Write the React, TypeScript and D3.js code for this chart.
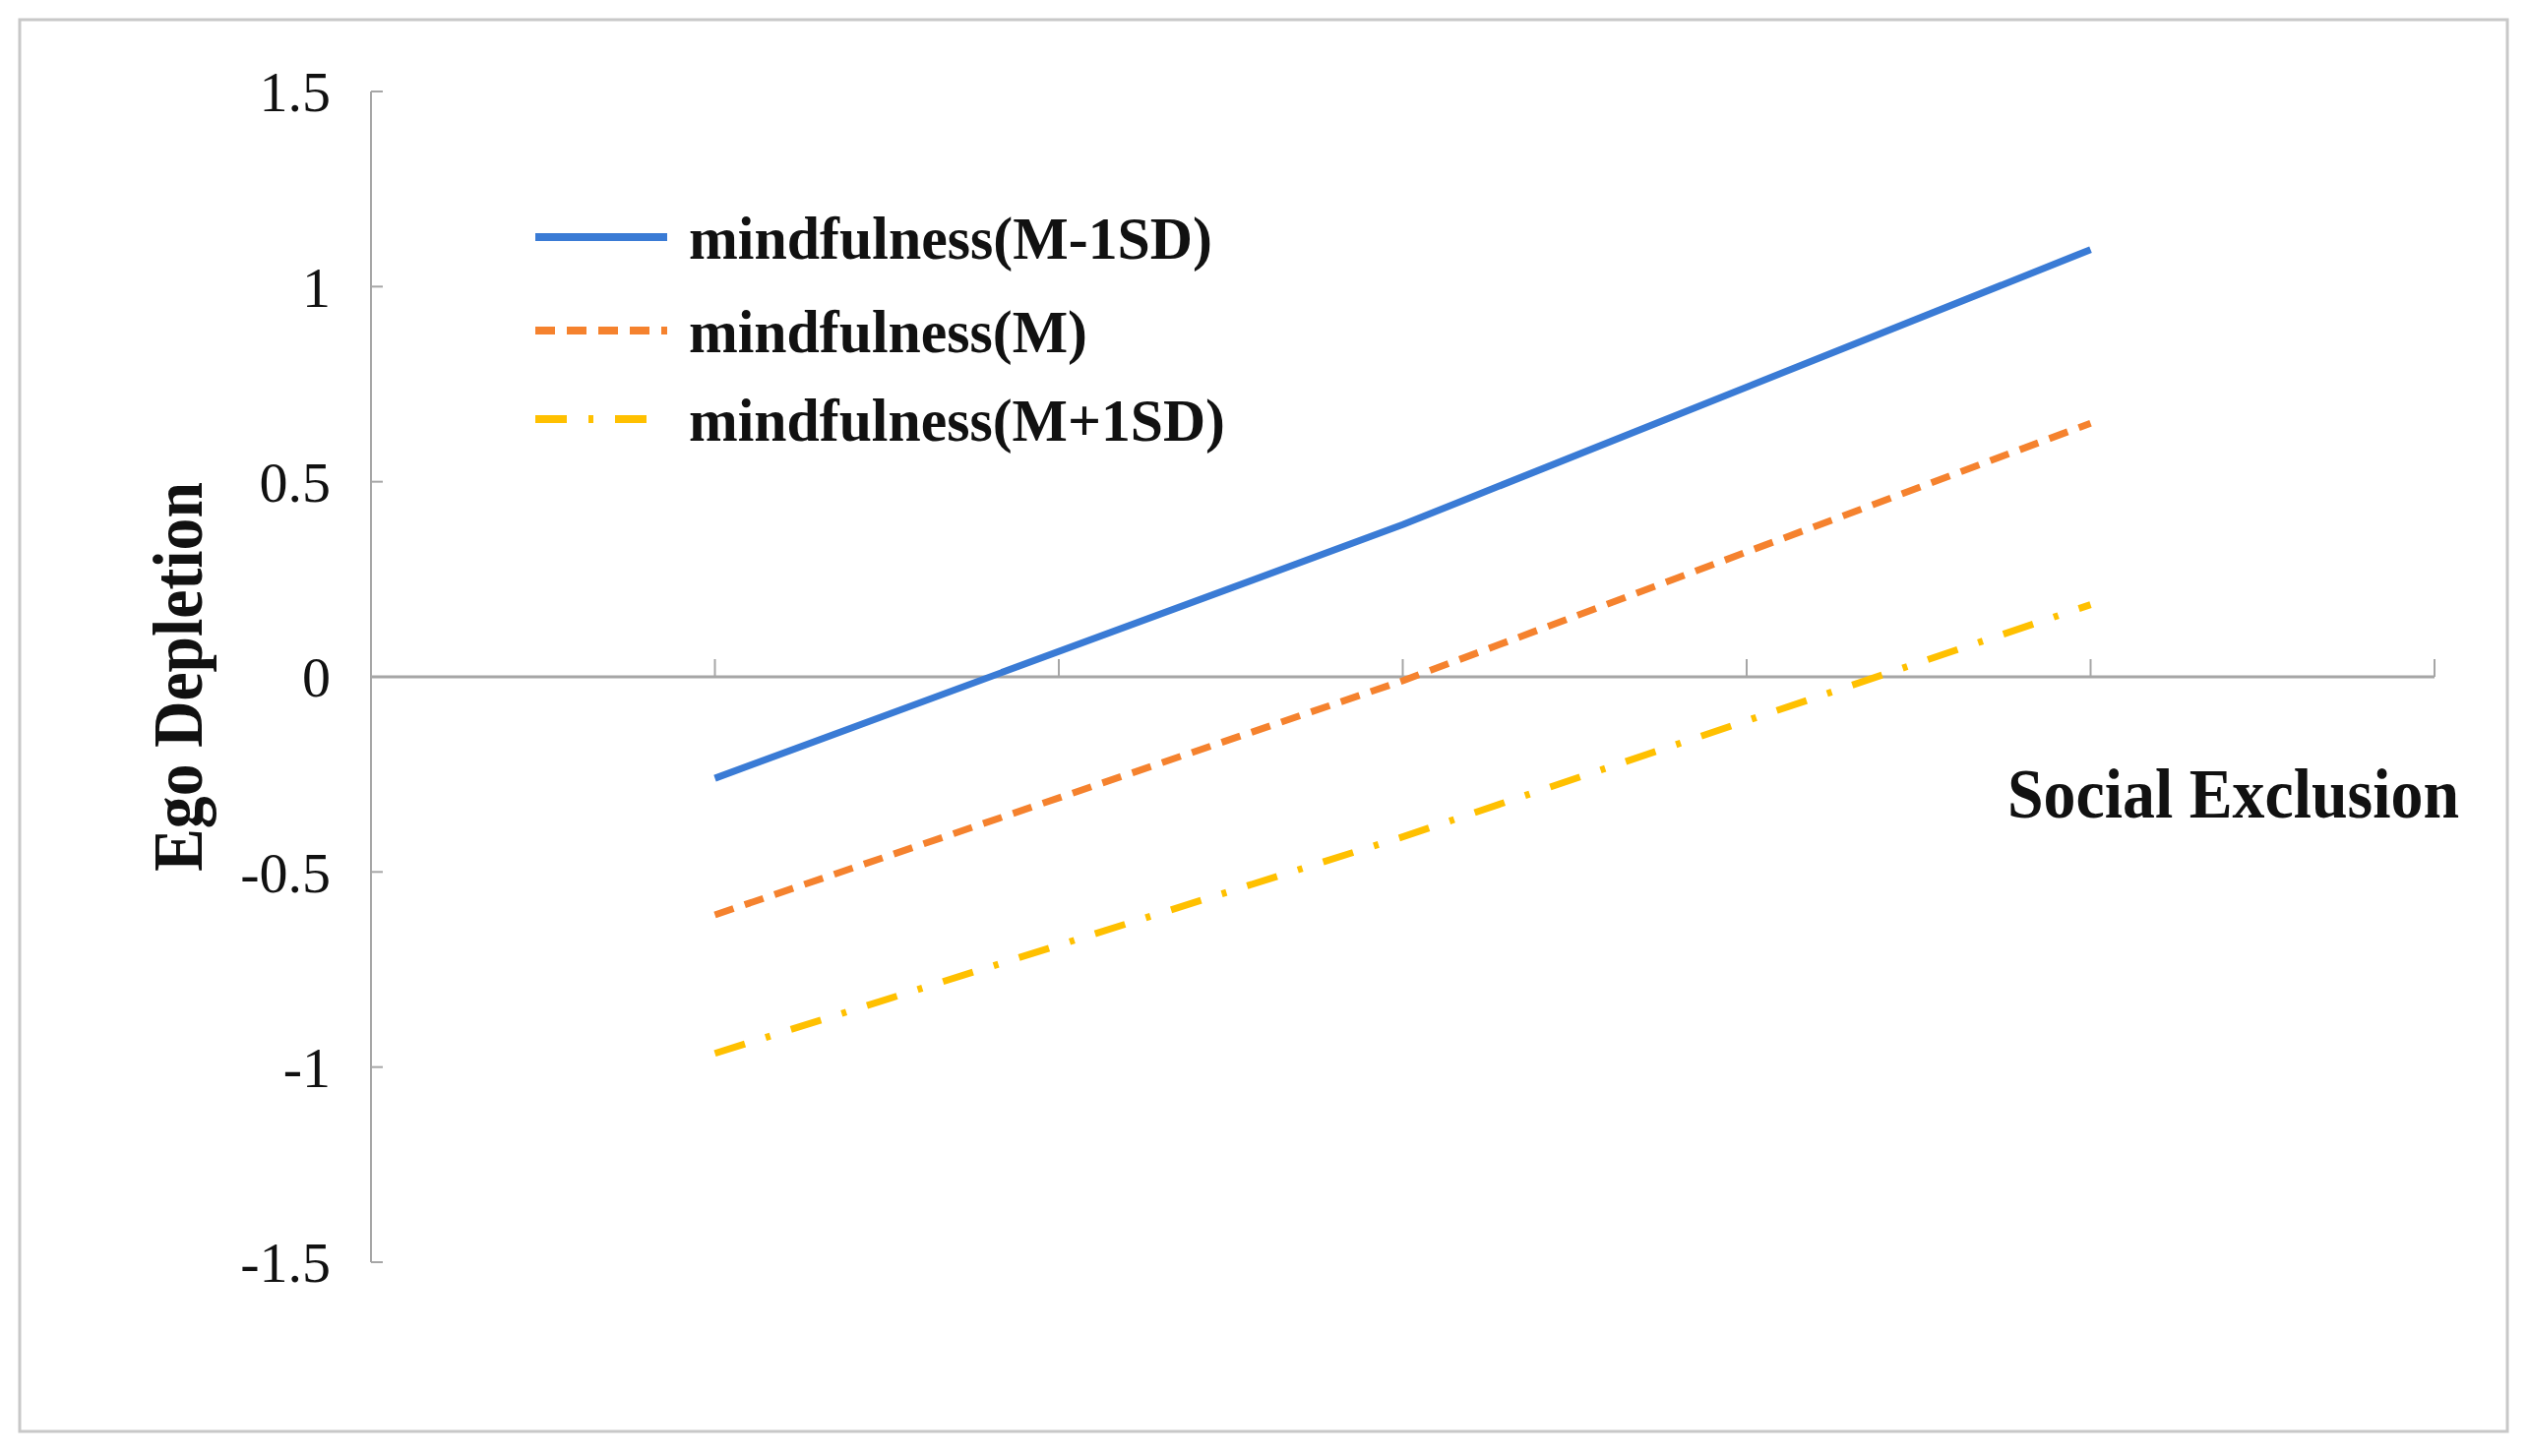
import React, { useEffect, useRef } from 'react';
import * as d3 from 'd3';

// x positions of the three conditions (low / mean / high social exclusion)
const xValues = [-2, 0, 2];
const seriesNames = ['mindfulness(M-1SD)', 'mindfulness(M)', 'mindfulness(M+1SD)'];
const lowMindfulness = [-0.26, 0.39, 1.095];
const meanMindfulness = [-0.61, -0.01, 0.65];
const highMindfulness = [-0.965, -0.41, 0.185];
const yTicks = [1.5, 1, 0.5, 0, -0.5, -1, -1.5];
const xTicks = [-2, -1, 0, 1, 2, 3];

const colors = ['#3a7bd5', '#f5822e', '#ffc000'];
const dashes = ['none', '20,12', '32,22,5,22'];

export default function App() {
    const ref = useRef<SVGSVGElement>(null);

    const width = 2569;
    const height = 1480;

    useEffect(() => {
        const svg = d3.select(ref.current);
        svg.selectAll('*').remove();

        const font = '"Liberation Serif", "Times New Roman", serif';

        svg.append('rect')
            .attr('width', width)
            .attr('height', height)
            .attr('fill', '#ffffff');

        // outer frame
        svg.append('rect')
            .attr('x', 20)
            .attr('y', 20)
            .attr('width', 2528)
            .attr('height', 1435)
            .attr('fill', 'none')
            .attr('stroke', '#c8c8c8')
            .attr('stroke-width', 3);

        const x = d3.scaleLinear().domain([-3, 3]).range([377, 2474]);
        const y = d3.scaleLinear().domain([-1.5, 1.5]).range([1283, 93]);

        // y axis
        const yAxis = svg.append('g');
        yAxis.append('line')
            .attr('x1', x(-3)).attr('x2', x(-3))
            .attr('y1', y(1.5)).attr('y2', y(-1.5))
            .attr('stroke', '#a6a6a6')
            .attr('stroke-width', 2);
        yAxis.selectAll('.tick')
            .data(yTicks)
            .enter()
            .append('line')
            .attr('x1', x(-3)).attr('x2', x(-3) + 12)
            .attr('y1', (d) => y(d)).attr('y2', (d) => y(d))
            .attr('stroke', '#a6a6a6')
            .attr('stroke-width', 2);
        yAxis.selectAll('.label')
            .data(yTicks)
            .enter()
            .append('text')
            .attr('x', 336)
            .attr('y', (d) => y(d))
            .attr('dy', '0.35em')
            .attr('text-anchor', 'end')
            .style('font-family', font)
            .style('font-size', '58px')
            .style('fill', '#111')
            .text((d) => String(d));

        // x axis through zero
        const xAxis = svg.append('g');
        xAxis.append('line')
            .attr('x1', x(-3)).attr('x2', x(3))
            .attr('y1', y(0)).attr('y2', y(0))
            .attr('stroke', '#a6a6a6')
            .attr('stroke-width', 3);
        xAxis.selectAll('.tick')
            .data(xTicks)
            .enter()
            .append('line')
            .attr('x1', (d) => x(d)).attr('x2', (d) => x(d))
            .attr('y1', y(0)).attr('y2', y(0) - 18)
            .attr('stroke', '#a6a6a6')
            .attr('stroke-width', 2);

        // axis titles
        svg.append('text')
            .attr('transform', `translate(205, ${y(0)}) rotate(-90)`)
            .attr('text-anchor', 'middle')
            .attr('textLength', 396)
            .attr('lengthAdjust', 'spacingAndGlyphs')
            .style('font-family', font)
            .style('font-size', '72px')
            .style('font-weight', 'bold')
            .style('fill', '#111')
            .text('Ego Depletion');

        svg.append('text')
            .attr('x', 2040)
            .attr('y', 831)
            .attr('textLength', 459)
            .attr('lengthAdjust', 'spacingAndGlyphs')
            .style('font-family', font)
            .style('font-size', '72px')
            .style('font-weight', 'bold')
            .style('fill', '#111')
            .text('Social Exclusion');

        // lines
        const series = [lowMindfulness, meanMindfulness, highMindfulness];
        const lineGen = d3.line<number>()
            .x((_, i) => x(xValues[i]))
            .y((d) => y(d));

        series.forEach((s, i) => {
            svg.append('path')
                .datum(s)
                .attr('d', lineGen)
                .attr('fill', 'none')
                .attr('stroke', colors[i])
                .attr('stroke-width', 7)
                .attr('stroke-dasharray', dashes[i])
                .attr('stroke-linejoin', 'round');
        });

        // legend
        const legendY = [241, 336, 426];
        const legendW = [532, 405, 545];
        const legend = svg.append('g');
        seriesNames.forEach((name, i) => {
            legend.append('line')
                .attr('x1', 544).attr('x2', 678)
                .attr('y1', legendY[i]).attr('y2', legendY[i])
                .attr('stroke', colors[i])
                .attr('stroke-width', 8)
                .attr('stroke-dasharray', dashes[i]);
            legend.append('text')
                .attr('x', 700)
                .attr('y', legendY[i])
                .attr('dy', '0.35em')
                .attr('textLength', legendW[i])
                .attr('lengthAdjust', 'spacingAndGlyphs')
                .style('font-family', font)
                .style('font-size', '62px')
                .style('font-weight', 'bold')
                .style('fill', '#111')
                .text(name);
        });
    }, []);

    return (
        <svg
            ref={ref}
            width={width}
            height={height}
            style={{ position: 'absolute', left: 0, top: 0 }}
        />
    );
}
